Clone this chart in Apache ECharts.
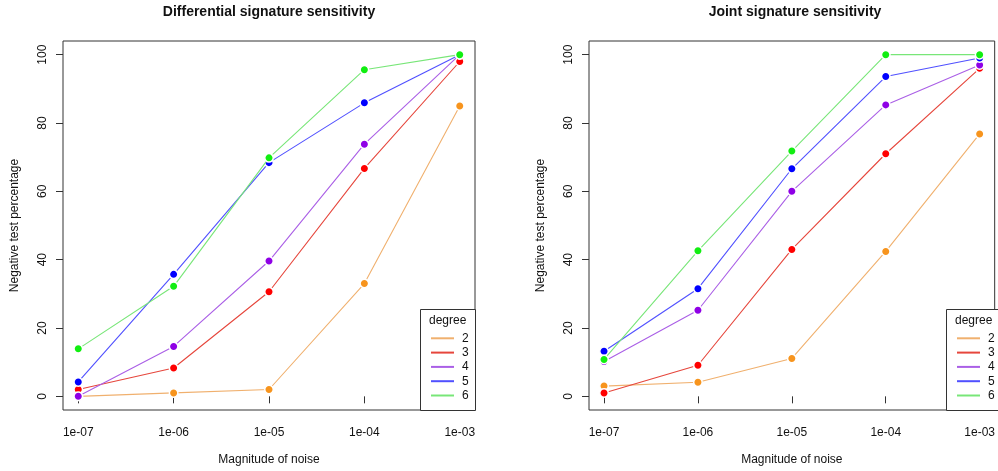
<!DOCTYPE html>
<html>
<head>
<meta charset="utf-8">
<script src="https://cdn.jsdelivr.net/npm/echarts@6/dist/echarts.min.js"></script>
<style>
html,body{margin:0;padding:0;background:#fff;}
#chart{width:998px;height:471px;}
</style>
</head>
<body>
<div id="chart"></div>
<script>
// ---- data ----
const noise = [1e-7, 1e-6, 1e-5, 1e-4, 1e-3];
const xTickLabels = ['1e-07', '1e-06', '1e-05', '1e-04', '1e-03'];
const yTicks = [0, 20, 40, 60, 80, 100];
const degrees = ['2', '3', '4', '5', '6'];

const differential_d2 = [0, 1, 2, 33, 85];
const differential_d3 = [2, 8.3, 30.6, 66.7, 98];
const differential_d4 = [0, 14.6, 39.6, 73.8, 100];
const differential_d5 = [4.2, 35.7, 68.4, 85.9, 100];
const differential_d6 = [13.9, 32.2, 69.8, 95.6, 100];

const joint_d2 = [3, 4.1, 11.1, 42.4, 76.8];
const joint_d3 = [1, 9.1, 43, 71, 96];
const joint_d4 = [10.2, 25.2, 60, 85.3, 97];
const joint_d5 = [13.2, 31.5, 66.6, 93.6, 99];
const joint_d6 = [10.8, 42.6, 71.8, 100, 100];

const pointColors = ['#F7941D', '#FF0000', '#8F00E6', '#0000FF', '#11EE11'];
const lineColors  = ['#F0B06E', '#E6463C', '#AA5FE6', '#5050FF', '#78E678'];

const FONT = "'Liberation Sans', Arial, Helvetica, sans-serif";
const xExps = noise.map(n => Math.round(Math.log10(n)));

function mkSeries(vals, i, idx) {
  return {
    type: 'line',
    name: degrees[i],
    xAxisIndex: idx, yAxisIndex: idx,
    data: noise.map((n, k) => [Math.log10(n), vals[k]]),
    symbol: 'circle',
    symbolSize: 8.5,
    z: 2 + i,
    lineStyle: { color: lineColors[i], width: 1.1 },
    itemStyle: { color: pointColors[i], borderColor: '#fff', borderWidth: 1.5 },
    emphasis: { disabled: true },
    silent: true
  };
}

function mkX(idx) {
  return {
    type: 'value', gridIndex: idx, min: -7.16, max: -2.84,
    axisLine: { show: false },
    splitLine: { show: false },
    axisTick: { show: true, length: 7, lineStyle: { color: '#333' }, customValues: xExps },
    axisLabel: {
      customValues: xExps, margin: 17, fontSize: 12, fontFamily: FONT, color: '#111',
      formatter: v => xTickLabels[xExps.indexOf(Math.round(v))]
    },
    name: 'Magnitude of noise', nameLocation: 'middle', nameGap: 44,
    nameTextStyle: { fontSize: 12, fontFamily: FONT, color: '#111' }
  };
}
function mkY(idx) {
  return {
    type: 'value', gridIndex: idx, min: -4, max: 104,
    axisLine: { show: false },
    splitLine: { show: false },
    axisTick: { show: true, length: 7, lineStyle: { color: '#333' }, customValues: yTicks },
    axisLabel: { customValues: yTicks, rotate: 90, margin: 14, fontSize: 12, fontFamily: FONT, color: '#111' },
    name: 'Negative test percentage', nameLocation: 'middle', nameGap: 42,
    nameTextStyle: { fontSize: 12, fontFamily: FONT, color: '#111' }
  };
}
function mkLegend(left) {
  return {
    orient: 'vertical', left: left, top: 331.7, padding: 0,
    itemWidth: 23, itemHeight: 14, itemGap: 1.1,
    selectedMode: false, z: 20,
    data: degrees,
    itemStyle: { opacity: 0 },
    textStyle: { fontSize: 12, fontFamily: FONT, color: '#111', padding: [0, 0, 0, 3] }
  };
}

const diffSets = [differential_d2, differential_d3, differential_d4, differential_d5, differential_d6];
const jointSets = [joint_d2, joint_d3, joint_d4, joint_d5, joint_d6];

const series = [];
diffSets.forEach((v, i) => series.push(mkSeries(v, i, 0)));
jointSets.forEach((v, i) => series.push(mkSeries(v, i, 1)));

const chart = echarts.init(document.getElementById('chart'), null, { renderer: 'canvas' });
chart.setOption({
  animation: false,
  backgroundColor: '#fff',
  grid: [
    { left: 63, top: 41, width: 412, height: 369, show: true, borderColor: '#333', borderWidth: 1, backgroundColor: 'transparent' },
    { left: 589, top: 41, width: 412, height: 369, show: true, borderColor: '#333', borderWidth: 1, backgroundColor: 'transparent' }
  ],
  xAxis: [mkX(0), mkX(1)],
  yAxis: [mkY(0), mkY(1)],
  legend: [mkLegend(430), mkLegend(956)],
  graphic: [
    { type: 'text', x: 269, y: 12, z: 10, style: { text: 'Differential signature sensitivity', font: 'bold 14px ' + FONT, fill: '#111', align: 'center', verticalAlign: 'middle' } },
    { type: 'text', x: 795, y: 12, z: 10, style: { text: 'Joint signature sensitivity', font: 'bold 14px ' + FONT, fill: '#111', align: 'center', verticalAlign: 'middle' } },
    { type: 'rect', z: 10, shape: { x: 420.5, y: 309.5, width: 55, height: 101 }, style: { fill: '#fff', stroke: '#333', lineWidth: 1 } },
    { type: 'text', z: 11, x: 429, y: 321, style: { text: 'degree', font: '12px ' + FONT, fill: '#111', align: 'left', verticalAlign: 'middle' } },
    { type: 'rect', z: 10, shape: { x: 946.5, y: 309.5, width: 60, height: 101 }, style: { fill: '#fff', stroke: '#333', lineWidth: 1 } },
    { type: 'text', z: 11, x: 955, y: 321, style: { text: 'degree', font: '12px ' + FONT, fill: '#111', align: 'left', verticalAlign: 'middle' } }
  ],
  series: series
});
</script>
</body>
</html>
